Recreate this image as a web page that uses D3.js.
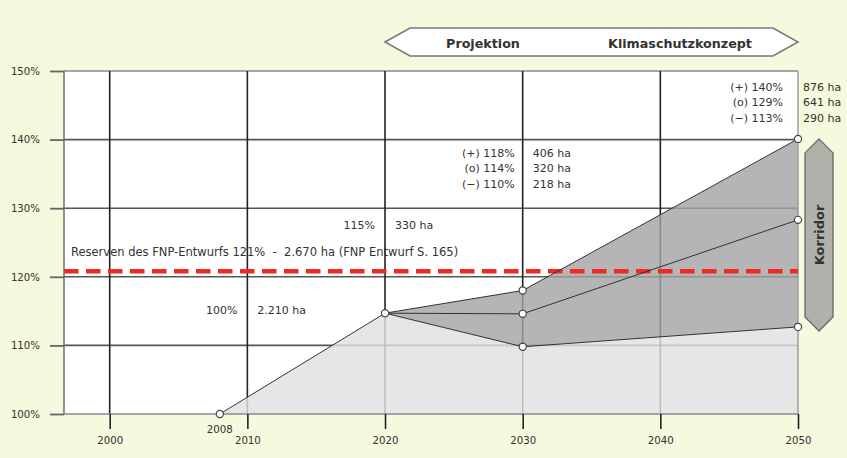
<!DOCTYPE html>
<html>
<head>
<meta charset="utf-8">
<script src="https://cdn.jsdelivr.net/npm/d3@7"></script>
<style>
  html, body { margin: 0; padding: 0; background: #f5f9dd; }
  svg { display: block; }
  text { font-family: "DejaVu Sans", Verdana, sans-serif; fill: #333; }
</style>
</head>
<body>
<svg id="chart" width="847" height="458"></svg>
<script>
// ---- data ----
const yTicks = [100, 110, 120, 130, 140, 150];
const xTicks = [2000, 2010, 2020, 2030, 2040, 2050];
const baseYears = [2008, 2020];
const baseValues = [100, 114.7];
const projYears = [2020, 2030, 2050];
const upperValues = [114.7, 118.0, 140.1];
const midValues = [114.7, 114.6, 128.3];
const lowerValues = [114.7, 109.8, 112.7];
const reserveValue = 120.8;
const reserveLabel = "Reserven des FNP-Entwurfs 121%  -  2.670 ha (FNP Entwurf S. 165)";
const label2008 = ["100%", "2.210 ha"];
const label2020 = ["115%", "330 ha"];
const label2030Pct = ["(+) 118%", "(o) 114%", "(\u2212) 110%"];
const label2030Ha = ["406 ha", "320 ha", "218 ha"];
const label2050Pct = ["(+) 140%", "(o) 129%", "(\u2212) 113%"];
const label2050Ha = ["876 ha", "641 ha", "290 ha"];
const bannerLabels = ["Projektion", "Klimaschutzkonzept"];
const corridorLabel = "Korridor";

// ---- layout ----
const svg = d3.select("#chart");
const x = d3.scaleLinear().domain([1996.68, 2050]).range([64, 798]);
const y = d3.scaleLinear().domain([100, 150]).range([414, 71]);
const [x0, x1] = x.range();
const [yb, yt] = y.range();

// plot background
svg.append("rect").attr("x", x0).attr("y", yt).attr("width", x1 - x0).attr("height", yb - yt).attr("fill", "#fff");

// gridlines
svg.append("g").selectAll("line").data(yTicks.filter(v => v > 100)).join("line")
  .attr("x1", x0).attr("x2", x1).attr("y1", d => y(d)).attr("y2", d => y(d))
  .attr("stroke", d => d === 150 ? "#888" : "#555").attr("stroke-width", 1.6);
svg.append("g").selectAll("line").data(xTicks.filter(v => v < 2050)).join("line")
  .attr("x1", d => x(d)).attr("x2", d => x(d)).attr("y1", yt).attr("y2", yb)
  .attr("stroke", "#222").attr("stroke-width", 1.6);

// fills
const lightPts = baseYears.map((d, i) => [d, baseValues[i]])
  .concat(projYears.slice(1).map((d, i) => [d, lowerValues[i + 1]]));
const area = d3.area().x(d => x(d[0])).y0(y(100)).y1(d => y(d[1]));
svg.append("path").datum(lightPts).attr("d", area).attr("fill", "#e0e0e0").attr("fill-opacity", 0.82);

const bandPts = projYears.map((d, i) => ({ yr: d, lo: lowerValues[i], hi: upperValues[i] }));
const band = d3.area().x(d => x(d.yr)).y0(d => y(d.lo)).y1(d => y(d.hi));
svg.append("path").datum(bandPts).attr("d", band).attr("fill", "#a2a2a2").attr("fill-opacity", 0.8);

// axis frame lines
svg.append("line").attr("x1", x0).attr("x2", x0).attr("y1", yt).attr("y2", yb).attr("stroke", "#777").attr("stroke-width", 1.6);
svg.append("line").attr("x1", x1).attr("x2", x1).attr("y1", yt).attr("y2", yb).attr("stroke", "#999").attr("stroke-width", 1.4);
svg.append("line").attr("x1", x0).attr("x2", x1).attr("y1", yb).attr("y2", yb).attr("stroke", "#888").attr("stroke-width", 1.6);

// reserve dashed line
svg.append("line").attr("x1", x0).attr("x2", x1).attr("y1", y(reserveValue)).attr("y2", y(reserveValue))
  .attr("stroke", "#ec2b24").attr("stroke-width", 4.5).attr("stroke-dasharray", "14.5 7.5");

// boundary lines
const line = d3.line().x(d => x(d[0])).y(d => y(d[1]));
const series = [
  baseYears.map((d, i) => [d, baseValues[i]]),
  projYears.map((d, i) => [d, upperValues[i]]),
  projYears.map((d, i) => [d, midValues[i]]),
  projYears.map((d, i) => [d, lowerValues[i]])
];
series.forEach(s => svg.append("path").datum(s).attr("d", line).attr("fill", "none").attr("stroke", "#333").attr("stroke-width", 1));

// points
const pts = [[2008, baseValues[0]], [2020, baseValues[1]]];
[upperValues, midValues, lowerValues].forEach(arr => arr.slice(1).forEach((v, i) => pts.push([projYears[i + 1], v])));
svg.append("g").selectAll("circle").data(pts).join("circle")
  .attr("cx", d => x(d[0])).attr("cy", d => y(d[1])).attr("r", 3.6)
  .attr("fill", "#fff").attr("stroke", "#444").attr("stroke-width", 1.2);

// axes
const yAxis = svg.append("g").attr("transform", `translate(${x0},0)`)
  .call(d3.axisLeft(y).tickValues(yTicks).tickSize(14).tickPadding(10).tickFormat(d => d + "%"));
yAxis.select(".domain").remove();
yAxis.selectAll(".tick line").attr("stroke", "#666").attr("stroke-width", 1.8);
yAxis.selectAll(".tick text").attr("font-size", 10.2).attr("fill", "#444").attr("font-family", "DejaVu Sans");

const xAxis = svg.append("g").attr("transform", `translate(0,${yb})`)
  .call(d3.axisBottom(x).tickValues(xTicks).tickSize(15).tickPadding(8).tickFormat(d3.format("d")));
xAxis.select(".domain").remove();
xAxis.selectAll(".tick line").attr("stroke", "#222").attr("stroke-width", 1.6);
xAxis.selectAll(".tick text").attr("font-size", 10.2).attr("fill", "#444").attr("font-family", "DejaVu Sans");

svg.append("text").attr("x", x(2008)).attr("y", 429).attr("text-anchor", "middle").attr("dominant-baseline", "central")
  .attr("font-size", 10.2).attr("fill", "#444").text("2008");

// annotations
const ann = (tx, ty, str, anchor, size) => svg.append("text").attr("x", tx).attr("y", ty)
  .attr("text-anchor", anchor || "start").attr("dominant-baseline", "central")
  .attr("font-size", size || 11).text(str);

ann(71, 251.5, reserveLabel, "start", 11.5).attr("xml:space", "preserve").style("white-space", "pre");
ann(x(2010) - 10, 310.5, label2008[0], "end");
ann(x(2010) + 10, 310.5, label2008[1]);
ann(x(2020) - 10, 225, label2020[0], "end");
ann(x(2020) + 10, 225, label2020[1]);
label2030Pct.forEach((t, i) => ann(x(2030) - 8, 153 + i * 15.5, t, "end"));
label2030Ha.forEach((t, i) => ann(x(2030) + 10, 153 + i * 15.5, t));
label2050Pct.forEach((t, i) => ann(x(2050) - 15, 87 + i * 15.5, t, "end"));
label2050Ha.forEach((t, i) => ann(x(2050) + 5, 87 + i * 15.5, t));

// banner arrow
const bL = x(2020), bR = x(2050), bT = 28, bB = 56, bM = (bT + bB) / 2, bI = 25;
svg.append("path")
  .attr("d", `M${bL},${bM} L${bL + bI},${bT} L${bR - bI},${bT} L${bR},${bM} L${bR - bI},${bB} L${bL + bI},${bB} Z`)
  .attr("fill", "#fff").attr("stroke", "#777").attr("stroke-width", 1.5);
ann(483, 43, bannerLabels[0], "middle", 12.7).attr("font-weight", "bold").attr("fill", "#222");
ann(680, 43, bannerLabels[1], "middle", 12.7).attr("font-weight", "bold").attr("fill", "#222");

// corridor arrow
const cL = 805, cR = 833, cC = (cL + cR) / 2, cT = y(upperValues[2]), cB = 331, cI = 14;
svg.append("path")
  .attr("d", `M${cC},${cT} L${cR},${cT + cI} L${cR},${cB - cI} L${cC},${cB} L${cL},${cB - cI} L${cL},${cT + cI} Z`)
  .attr("fill", "#b0b1ab").attr("stroke", "#666").attr("stroke-width", 1.3);
svg.append("text").attr("transform", `translate(${cC},${(cT + cB) / 2}) rotate(-90)`)
  .attr("text-anchor", "middle").attr("dominant-baseline", "central")
  .attr("font-size", 13).attr("font-weight", "bold").attr("fill", "#222").text(corridorLabel);
</script>
</body>
</html>
